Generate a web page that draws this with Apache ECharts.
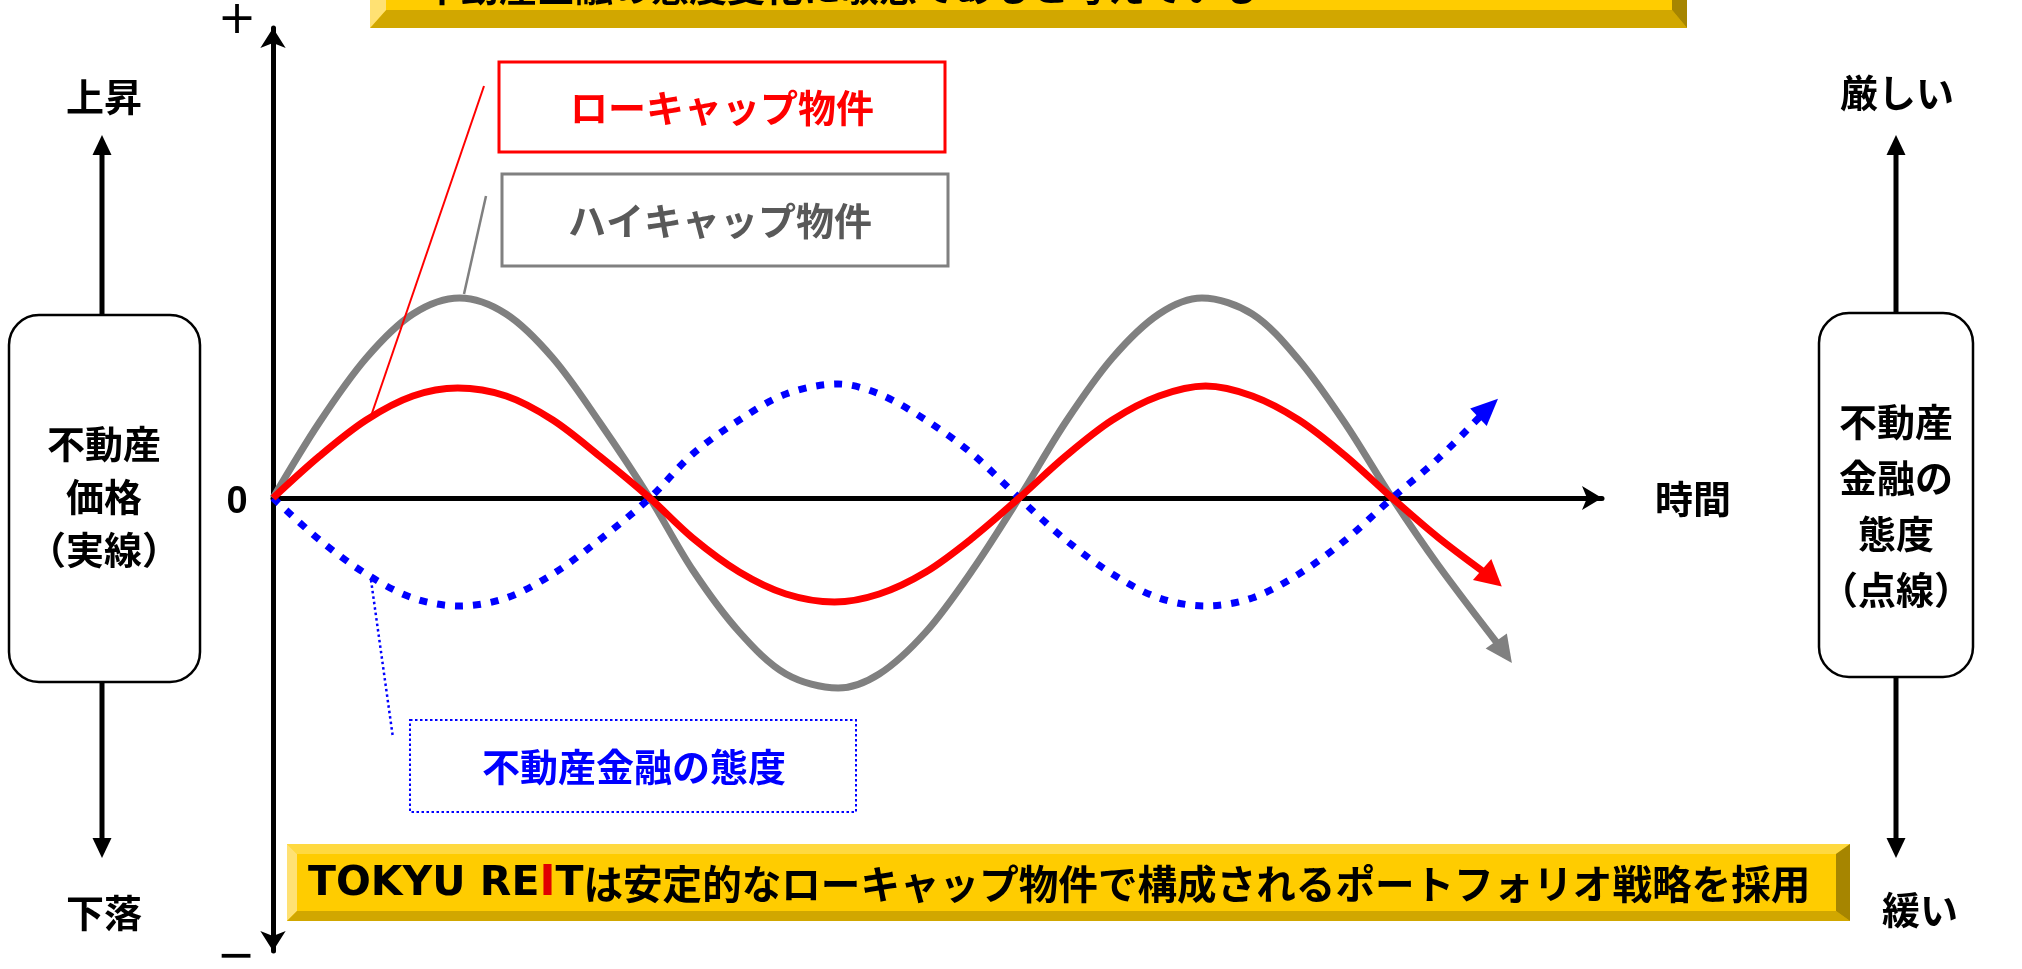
<!DOCTYPE html>
<html>
<head>
<meta charset="utf-8">
<script src="https://cdn.jsdelivr.net/npm/echarts@6/dist/echarts.min.js"></script>
<style>
  html, body { margin: 0; padding: 0; background: #fff; }
  #chart { width: 2022px; height: 969px; }
</style>
</head>
<body>
<div id="chart"></div>
<script>
// 時間 (1 = 1/8 周期) と各系列の値
const grayTime = [0, 0.5, 1, 1.5, 2.0, 2.5, 3, 3.5, 4.04, 4.5, 5, 5.5, 6.06, 6.5, 7, 7.5, 8.0, 8.5, 9, 9.5, 9.96, 10.5, 11, 11.5, 12.0, 12.5, 13.2];
const grayValue = [0, 3.8, 7.0, 9.2, 10, 9.2, 7.0, 3.8, 0, -3.6, -6.7, -8.8, -9.5, -8.8, -6.7, -3.6, 0, 3.8, 7.0, 9.2, 10, 9.2, 6.9, 3.7, 0, -3.4, -7.7];

const redTime = [0, 0.5, 1, 1.5, 1.98, 2.5, 3, 3.5, 4.04, 4.5, 5, 5.5, 6.02, 6.5, 7, 7.5, 8.0, 8.5, 9, 9.5, 10.0, 10.5, 11, 11.5, 12.0, 12.5, 13.07];
const redValue = [0, 2.1, 3.9, 5.1, 5.5, 5.1, 3.9, 2.1, 0, -2.0, -3.7, -4.8, -5.2, -4.8, -3.7, -2.0, 0, 2.1, 3.9, 5.1, 5.6, 5.1, 3.9, 2.1, 0, -2.0, -4.0];

const blueTime = [0, 0.5, 1, 1.5, 2.0, 2.5, 3, 3.5, 4.04, 4.5, 5, 5.5, 6.06, 6.5, 7, 7.5, 8.0, 8.5, 9, 9.5, 10.0, 10.5, 11, 11.5, 12.0, 12.5, 13.03];
const blueValue = [0, -2.1, -3.8, -5.0, -5.4, -5.0, -3.8, -2.1, 0, 2.2, 3.9, 5.2, 5.7, 5.2, 3.9, 2.2, 0, -2.1, -3.8, -5.0, -5.4, -5.0, -3.8, -2.1, 0, 2.0, 4.5];

const seriesNames = ['ハイキャップ物件', 'ローキャップ物件', '不動産金融の態度'];

const jp = '"Noto Sans CJK JP", sans-serif';

// 最後の点だけ矢印にする
function toData(times, values, color, rotate, size) {
    return times.map((t, i) => {
        if (i === times.length - 1) {
            return {
                value: [t, values[i]],
                symbol: 'triangle',
                symbolSize: size,
                symbolRotate: rotate,
                itemStyle: { color: color }
            };
        }
        return [t, values[i]];
    });
}

function text(str, x, y, size, color, extra) {
    return {
        type: 'text', x: x, y: y, z: 20,
        style: Object.assign({
            text: str, fill: color, fontSize: size, fontWeight: 'bold', fontFamily: jp,
            align: 'center', verticalAlign: 'middle'
        }, extra || {})
    };
}

function line(x1, y1, x2, y2, color, width, dash) {
    return {
        type: 'line', z: 15,
        shape: { x1: x1, y1: y1, x2: x2, y2: y2 },
        style: { stroke: color, lineWidth: width, lineDash: dash || null }
    };
}

function poly(points, color, z) {
    return { type: 'polygon', z: z || 15, shape: { points: points }, style: { fill: color } };
}

// 縦の矢印 (box端 -> 先端)
function vArrow(x, from, tip) {
    const dir = tip < from ? 1 : -1;
    return [
        line(x, from, x, tip + dir * 18, '#000', 5),
        poly([[x, tip], [x - 9.5, tip + dir * 20], [x + 9.5, tip + dir * 20]], '#000')
    ];
}

const chart = echarts.init(document.getElementById('chart'));

const graphics = [
    // 上の帯 (大部分は画面外)
    poly([[370, 0], [1687, 0], [1687, 28], [370, 28]], '#FFCC00', 5),
    text('不動産金融の態度変化に敏感であると考えている', 423, -13, 38, '#000', { align: 'left' }),
    poly([[370, 28], [1687, 28], [1672, 10], [386, 10]], '#D1A700', 6),
    poly([[370, 0], [386, 0], [386, 10], [370, 28]], '#FFE173', 6),
    poly([[1672, 0], [1687, 0], [1687, 28], [1672, 10]], '#A68500', 6),

    // 下の帯
    poly([[287, 844], [1850, 844], [1850, 921], [287, 921]], '#FFCC00', 5),
    poly([[287, 844], [1850, 844], [1836, 854], [297, 854]], '#FFD940', 6),
    poly([[287, 844], [297, 854], [297, 911], [287, 921]], '#FFE173', 6),
    poly([[287, 921], [297, 911], [1836, 911], [1850, 921]], '#D1A700', 6),
    poly([[1836, 854], [1850, 844], [1850, 921], [1836, 911]], '#A68500', 6),
    {
        type: 'text', x: 308, y: 884, z: 20,
        style: {
            text: '{en|TOKYU RE}{ri|I}{en|T}{jp|は安定的なローキャップ物件で構成されるポートフォリオ戦略を採用}',
            verticalAlign: 'middle', align: 'left',
            rich: {
                en: { fill: '#000', fontSize: 41, fontWeight: 900, fontFamily: '"DejaVu Sans", sans-serif' },
                ri: { fill: '#E00000', fontSize: 43, fontWeight: 900, fontFamily: '"DejaVu Sans", sans-serif' },
                jp: { fill: '#000', fontSize: 39.6, fontWeight: 'bold', fontFamily: jp }
            }
        }
    },

    // 軸の記号
    text('+', 237, 21, 46, '#000', { fontWeight: 'normal', fontFamily: '"DejaVu Sans", sans-serif' }),
    text('−', 236, 958, 46, '#000', { fontWeight: 'normal', fontFamily: '"DejaVu Sans", sans-serif' }),
    text('0', 237, 503, 38, '#000', { fontFamily: '"Liberation Sans", sans-serif' }),
    text('時間', 1693, 499, 38, '#000'),

    // 左側: 不動産価格
    { type: 'rect', z: 15, shape: { x: 9, y: 315, width: 191, height: 367, r: 30 }, style: { fill: '#fff', stroke: '#000', lineWidth: 2.5 } },
    text('不動産\n価格\n（実線）', 104, 497, 38, '#000', { lineHeight: 53 }),
    ...vArrow(102, 315, 135),
    ...vArrow(102, 682, 858),
    text('上昇', 104, 97, 38, '#000'),
    text('下落', 104, 913, 38, '#000'),

    // 右側: 不動産金融の態度
    { type: 'rect', z: 15, shape: { x: 1819, y: 313, width: 154, height: 364, r: 30 }, style: { fill: '#fff', stroke: '#000', lineWidth: 2.5 } },
    text('不動産\n金融の\n態度\n（点線）', 1896, 506, 38, '#000', { lineHeight: 56 }),
    ...vArrow(1896, 313, 135),
    ...vArrow(1896, 677, 858),
    text('厳しい', 1897, 93, 38, '#000'),
    text('緩い', 1920, 910, 38, '#000'),

    // 凡例ボックスと引き出し線
    line(484, 86, 370, 419, '#FF0000', 2),
    line(486, 196, 464, 294, '#808080', 2.5),
    line(371, 580, 393, 738, '#0000FF', 2.5, [2.5, 3]),
    { type: 'rect', z: 15, shape: { x: 499, y: 62, width: 446, height: 90 }, style: { fill: '#fff', stroke: '#FF0000', lineWidth: 3 } },
    text(seriesNames[1], 722, 108, 38, '#FF0000'),
    { type: 'rect', z: 15, shape: { x: 502, y: 174, width: 446, height: 92 }, style: { fill: '#fff', stroke: '#808080', lineWidth: 3 } },
    text(seriesNames[0], 720, 221, 38, '#595959'),
    { type: 'rect', z: 15, shape: { x: 410, y: 720, width: 446, height: 92 }, style: { fill: '#fff', stroke: '#0000FF', lineWidth: 2, lineDash: [2.5, 2.5] } },
    text(seriesNames[2], 634, 767, 38, '#0000FF')
];

chart.setOption({
    animation: false,
    backgroundColor: '#fff',
    grid: { left: 273, top: 28, width: 1329, height: 923 },
    xAxis: {
        type: 'value', min: 0, max: 14.25,
        axisLine: { show: true, onZero: true, symbol: ['none', 'arrow'], symbolSize: [18, 20], lineStyle: { color: '#000', width: 5 } },
        axisTick: { show: false }, axisLabel: { show: false }, splitLine: { show: false }
    },
    yAxis: {
        type: 'value', min: -22.65, max: 23.5,
        axisLine: { show: true, onZero: true, symbol: ['arrow', 'arrow'], symbolSize: [19, 20], lineStyle: { color: '#000', width: 5 } },
        axisTick: { show: false }, axisLabel: { show: false }, splitLine: { show: false }
    },
    series: [
        {
            name: seriesNames[0], type: 'line', smooth: 0.33, symbol: 'none', showSymbol: true, z: 2,
            lineStyle: { color: '#808080', width: 7, cap: 'butt' },
            data: toData(grayTime, grayValue, '#808080', -144.6, [26, 27])
        },
        {
            name: seriesNames[2], type: 'line', smooth: 0.33, symbol: 'none', showSymbol: true, z: 3,
            lineStyle: { color: '#0000FF', width: 7, type: [8, 10], cap: 'butt' },
            data: toData(blueTime, blueValue, '#0000FF', -46.5, [24, 27])
        },
        {
            name: seriesNames[1], type: 'line', smooth: 0.33, symbol: 'none', showSymbol: true, z: 4,
            lineStyle: { color: '#FF0000', width: 7, cap: 'butt' },
            data: toData(redTime, redValue, '#FF0000', -131, [28, 26])
        }
    ],
    graphic: graphics
});
</script>
</body>
</html>
